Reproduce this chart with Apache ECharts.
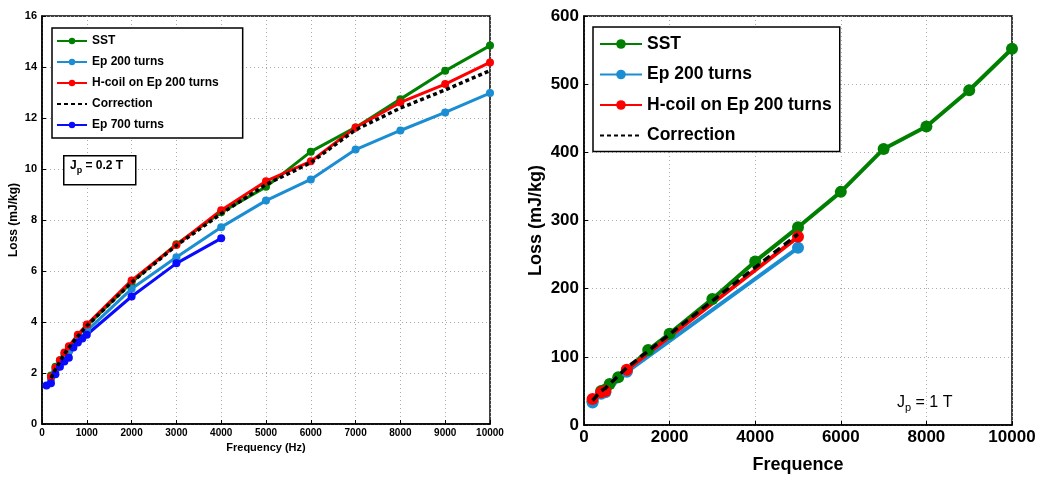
<!DOCTYPE html>
<html><head><meta charset="utf-8">
<script src="https://cdn.jsdelivr.net/npm/echarts@6/dist/echarts.min.js"></script>
<style>html,body{margin:0;padding:0;background:#fff}#c{width:1046px;height:479px}</style>
</head><body><div id="c"></div>
<script>
// ---- Left chart (Jp = 0.2 T) ----
const leftSSTx   = [200, 300, 400, 500, 600, 800, 1000, 2000, 3000, 4000, 5000, 6000, 7000, 8000, 9000, 10000];
const leftSSTy   = [1.9, 2.25, 2.5, 2.75, 3.0, 3.45, 3.85, 5.55, 7.05, 8.3, 9.3, 10.68, 11.63, 12.74, 13.85, 14.84];
const leftEp200x = [200, 300, 400, 500, 600, 800, 1000, 2000, 3000, 4000, 5000, 6000, 7000, 8000, 9000, 10000];
const leftEp200y = [1.75, 2.1, 2.35, 2.6, 2.85, 3.25, 3.65, 5.3, 6.54, 7.72, 8.76, 9.59, 10.76, 11.51, 12.22, 12.98];
const leftHcoilx = [200, 300, 400, 500, 600, 800, 1000, 2000, 3000, 4000, 5000, 6000, 7000, 8000, 9000, 10000];
const leftHcoily = [1.85, 2.2, 2.5, 2.8, 3.05, 3.5, 3.9, 5.63, 7.02, 8.38, 9.52, 10.3, 11.63, 12.61, 13.33, 14.18];
const leftCorrx  = [200, 300, 400, 500, 600, 800, 1000, 2000, 3000, 4000, 5000, 6000, 7000, 8000, 9000, 10000];
const leftCorry  = [1.8, 2.15, 2.45, 2.75, 3.0, 3.45, 3.85, 5.55, 7.0, 8.25, 9.39, 10.25, 11.54, 12.39, 13.1, 13.86];
const leftEp700x = [100, 200, 300, 400, 500, 600, 700, 800, 900, 1000, 2000, 3000, 4000];
const leftEp700y = [1.51, 1.6, 1.95, 2.25, 2.45, 2.6, 3.0, 3.2, 3.35, 3.5, 5.0, 6.3, 7.28];
const leftYTicks = [0, 2, 4, 6, 8, 10, 12, 14, 16];
const leftXTicks = [0, 1000, 2000, 3000, 4000, 5000, 6000, 7000, 8000, 9000, 10000];

// ---- Right chart (Jp = 1 T) ----
const rightSSTx   = [200, 400, 500, 600, 800, 1000, 1500, 2000, 3000, 4000, 5000, 6000, 7000, 8000, 9000, 10000];
const rightSSTy   = [35, 50, 52, 60, 70, 80, 110, 134, 185, 240, 290, 342, 405, 438, 491, 552];
const rightEp200x = [200, 400, 500, 1000, 5000];
const rightEp200y = [33, 46, 48, 78, 260];
const rightHcoilx = [200, 400, 500, 1000, 5000];
const rightHcoily = [38, 48, 50, 81, 276];
const rightCorrx  = [200, 400, 500, 1000, 5000];
const rightCorry  = [36, 50, 54, 84, 280];
const rightYTicks = [0, 100, 200, 300, 400, 500, 600];
const rightXTicks = [0, 2000, 4000, 6000, 8000, 10000];

const names = ['SST', 'Ep 200 turns', 'H-coil on Ep 200 turns', 'Correction', 'Ep 700 turns'];
const cGreen = '#008000', cLight = '#1b8dd2', cRed = '#ff0000', cBlack = '#000000', cBlue = '#0a0aff';
const FONT = 'Liberation Sans, Arial, sans-serif';

function zip(xs, ys) { return xs.map((x, i) => [x, ys[i]]); }

const chart = echarts.init(document.getElementById('c'), null, {renderer: 'canvas'});

function axisCommon(idx, ticks, fs, name, gap, lm) {
  return {
    gridIndex: idx, type: 'value', min: ticks[0], max: ticks[ticks.length - 1],
    interval: ticks[1] - ticks[0], name: name, nameLocation: 'middle', nameGap: gap,
    nameTextStyle: {fontFamily: FONT, fontWeight: 'bold', fontSize: fs + 1, color: '#000'},
    axisLine: {show: true, onZero: false, lineStyle: {color: '#000', width: 1.5}},
    axisTick: {show: true, inside: true, length: 4, lineStyle: {color: '#000'}},
    axisLabel: {fontFamily: FONT, fontWeight: 'bold', fontSize: fs, color: '#000', margin: lm,
      formatter: v => String(v)},
    splitLine: {show: true, lineStyle: {color: '#aaa', type: [1, 3], width: 1}}
  };
}
function line(name, data, color, idx, lw, ss, dashed, dash) {
  return {
    name: name, type: 'line', xAxisIndex: idx, yAxisIndex: idx, data: data,
    symbol: dashed ? 'none' : 'circle', symbolSize: ss, showSymbol: !dashed,
    lineStyle: {color: color, width: lw, type: dashed ? dash : 'solid'},
    itemStyle: {color: color}, animation: false, z: dashed ? 5 : 3
  };
}
function legendData(list) {
  return list.map(n => n === 'Correction' ? {name: n, itemStyle: {opacity: 0}} : {name: n});
}

chart.setOption({
  animation: false,
  grid: [
    {left: 42, right: 556, top: 16, bottom: 55, show: true, borderColor: '#000', borderWidth: 1.5},
    {left: 584, right: 34, top: 16, bottom: 51, show: true, borderColor: '#000', borderWidth: 1.5}
  ],
  xAxis: [axisCommon(0, leftXTicks, 10, 'Frequency (Hz)', 17, 4), axisCommon(1, rightXTicks, 17, 'Frequence', 31, 4)],
  yAxis: [axisCommon(0, leftYTicks, 11, 'Loss (mJ/kg)', 22, 5), axisCommon(1, rightYTicks, 17, 'Loss (mJ/kg)', 39, 5)],
  legend: [
    {
      data: legendData(names), orient: 'vertical', left: 52, top: 28, itemWidth: 30, itemHeight: 8, itemGap: 9,
      backgroundColor: '#fff', borderColor: '#000', borderWidth: 1.5, padding: [7, 24, 7, 4],
      textStyle: {fontFamily: FONT, fontWeight: 'bold', fontSize: 12, color: '#000'},
      selectedMode: false
    },
    {
      data: legendData(names.slice(0, 4)), orient: 'vertical', left: 593, top: 27, itemWidth: 42, itemHeight: 12, itemGap: 12.5,
      backgroundColor: '#fff', borderColor: '#000', borderWidth: 1.5, padding: [8, 8, 7, 6],
      textStyle: {fontFamily: FONT, fontWeight: 'bold', fontSize: 17.5, color: '#000'},
      selectedMode: false
    }
  ],
  graphic: [
    {
      type: 'rect', left: 63, top: 155, shape: {width: 72, height: 29},
      style: {fill: '#fff', stroke: '#000', lineWidth: 1.5}, z: 10
    },
    {
      type: 'text', left: 70, top: 160, z: 11,
      style: {
        rich: {
          a: {fontFamily: FONT, fontWeight: 'bold', fontSize: 12, fill: '#000'},
          s: {fontFamily: FONT, fontWeight: 'bold', fontSize: 9, fill: '#000', padding: [9, 0, 0, 0]}
        },
        text: '{a|J}{s|p}{a| = 0.2 T}'
      }
    },
    {
      type: 'text', left: 897, top: 395, z: 11,
      style: {
        rich: {
          a: {fontFamily: FONT, fontSize: 16, fill: '#000'},
          s: {fontFamily: FONT, fontSize: 11, fill: '#000', padding: [10, 0, 0, 0]}
        },
        text: '{a|J}{s|p}{a| = 1 T}'
      }
    }
  ],
  series: [
    line(names[0], zip(leftSSTx, leftSSTy), cGreen, 0, 3, 8, false),
    line(names[1], zip(leftEp200x, leftEp200y), cLight, 0, 3, 8, false),
    line(names[2], zip(leftHcoilx, leftHcoily), cRed, 0, 3, 8, false),
    line(names[3], zip(leftCorrx, leftCorry), cBlack, 0, 3.5, 0, true, [4, 3]),
    line(names[4], zip(leftEp700x, leftEp700y), cBlue, 0, 3, 8, false),
    line(names[0], zip(rightSSTx, rightSSTy), cGreen, 1, 4, 12, false),
    line(names[1], zip(rightEp200x, rightEp200y), cLight, 1, 4, 12, false),
    line(names[2], zip(rightHcoilx, rightHcoily), cRed, 1, 4, 12, false),
    line(names[3], zip(rightCorrx, rightCorry), cBlack, 1, 3.5, 0, true, [8, 5])
  ]
});
</script></body></html>
